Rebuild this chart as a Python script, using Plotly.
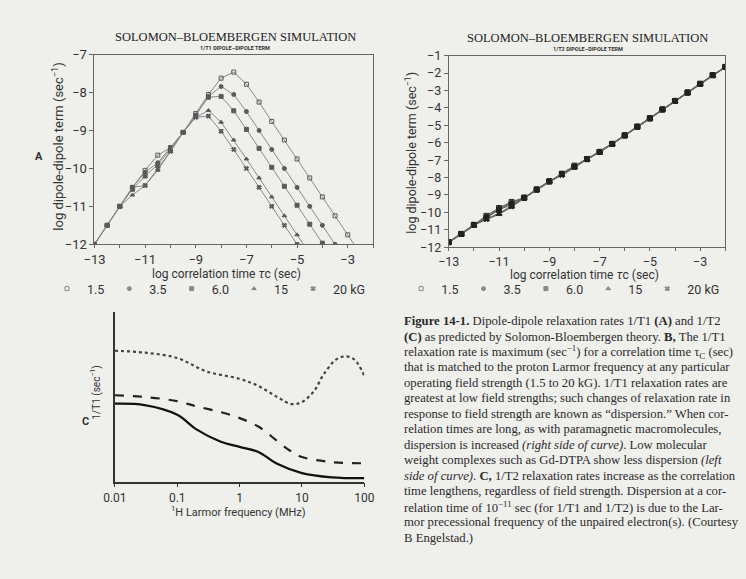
import plotly.graph_objects as go

W, H = 746, 579
def px(x): return x / W
def py(y): return 1 - y / H

# ---------------- data ----------------
field_names = ["1.5", "3.5", "6.0", "15", "20 kG"]
symbols = ["square-open", "circle", "square", "triangle-up", "x"]

# Panel A: 1/T1 dipole-dipole term (log), vs log correlation time
xA = [-13, -12.5, -12, -11.5, -11, -10.5, -10, -9.5, -9, -8.5, -8, -7.5,
      -7, -6.5, -6, -5.5, -5, -4.5, -4, -3.5, -3, -2.5]
t1_15 = [-12, -11.5, -11, -10.5, -10.05, -9.65, -9.45, -9.05, -8.55, -8.05, -7.62, -7.46,
         -7.78, -8.25, -8.76, -9.25, -9.75, -10.25, -10.75, -11.25, -11.75, -12.25]
t1_35 = [-12, -11.5, -11, -10.5, -10.1, -9.85, -9.45, -9.05, -8.6, -8.1, -7.84, -8.05,
         -8.5, -9.0, -9.5, -10.0, -10.5, -11.0, -11.5, -12.0]
t1_60 = [-12, -11.5, -11, -10.55, -10.2, -9.9, -9.5, -9.05, -8.6, -8.12, -8.1, -8.48,
         -8.97, -9.47, -9.97, -10.47, -10.97, -11.47, -11.97]
t1_150 = [-12, -11.5, -11, -10.7, -10.45, -10.05, -9.55, -9.05, -8.65, -8.47, -8.78, -9.25,
          -9.75, -10.25, -10.75, -11.25, -11.75, -12.25]
t1_200 = [-12, -11.5, -11, -10.5, -10.45, -10.0, -9.55, -9.05, -8.65, -8.62, -9.02, -9.5,
          -10.0, -10.5, -11.0, -11.5, -12.0]
t1_series = [t1_15, t1_35, t1_60, t1_150, t1_200]

# Panel B: 1/T2 dipole-dipole term (log)
xB = [-13, -12.5, -12, -11.5, -11, -10.5, -10, -9.5, -9, -8.5, -8, -7.5,
      -7, -6.5, -6, -5.5, -5, -4.5, -4, -3.5, -3, -2.5, -2]
t2_15 = [-11.71, -11.24, -10.72, -10.2, -9.75, -9.4, -9.16, -8.69, -8.22, -7.78, -7.32, -6.94,
         -6.53, -6.07, -5.58, -5.08, -4.6, -4.09, -3.6, -3.12, -2.62, -2.12, -1.65]
t2_35 = [-11.71, -11.24, -10.72, -10.25, -9.8, -9.45, -9.16, -8.69, -8.22, -7.8, -7.35, -6.94,
         -6.53, -6.07, -5.58, -5.08, -4.6, -4.09, -3.6, -3.12, -2.62, -2.12, -1.65]
t2_60 = [-11.71, -11.24, -10.72, -10.3, -9.85, -9.55, -9.16, -8.69, -8.22, -7.8, -7.38, -6.94,
         -6.53, -6.07, -5.58, -5.08, -4.6, -4.09, -3.6, -3.12, -2.62, -2.12, -1.65]
t2_150 = [-11.71, -11.24, -10.72, -10.4, -10.1, -9.68, -9.16, -8.69, -8.22, -7.85, -7.42, -6.94,
          -6.53, -6.07, -5.58, -5.08, -4.6, -4.09, -3.6, -3.12, -2.62, -2.12, -1.65]
t2_200 = [-11.71, -11.24, -10.72, -10.38, -10.05, -9.65, -9.16, -8.69, -8.22, -7.85, -7.4, -6.94,
          -6.53, -6.07, -5.58, -5.08, -4.6, -4.09, -3.6, -3.12, -2.62, -2.12, -1.65]
t2_series = [t2_15, t2_35, t2_60, t2_150, t2_200]

# Panel C: 1/T1 (arbitrary units) vs 1H Larmor frequency (MHz)
f_dot = [0.01, 0.03, 0.1, 0.3, 1, 2, 4, 6.8, 10, 16, 22, 35, 50, 70, 100]
c_dot = [7.73, 7.62, 7.3, 6.5, 6.07, 5.65, 5.0, 4.58, 4.7, 5.4, 6.3, 7.2, 7.4, 7.2, 6.24]
f_dash = [0.01, 0.03, 0.1, 0.2, 0.5, 1, 2, 4, 6.3, 10, 30, 100]
c_dash = [5.1, 5.0, 4.75, 4.45, 4.1, 3.75, 3.25, 2.4, 1.85, 1.45, 1.15, 1.08]
f_solid = [0.01, 0.03, 0.1, 0.2, 0.5, 1, 2, 4, 10, 30, 100]
c_solid = [4.6, 4.52, 3.95, 3.1, 2.35, 2.05, 1.75, 1.05, 0.5, 0.25, 0.2]

xticks_log = list(range(-13, -1))
xticktext_log = ["\u2212%d" % (-v) if v % 2 else "" for v in xticks_log]
xC_ticks = [0.01, 0.1, 1, 10, 100]
xC_text = ["0.01", "0.1", "1", "10", "100"]

caption = [
    "<b>Figure 14-1.</b> Dipole-dipole relaxation rates 1/T1 <b>(A)</b> and 1/T2",
    "<b>(C)</b> as predicted by Solomon-Bloembergen theory. <b>B,</b> The 1/T1",
    "relaxation rate is maximum (sec<sup>\u22121</sup>) for a correlation time \u03c4<sub>C</sub> (sec)",
    "that is matched to the proton Larmor frequency at any particular",
    "operating field strength (1.5 to 20 kG). 1/T1 relaxation rates are",
    "greatest at low field strengths; such changes of relaxation rate in",
    "response to field strength are known as \u201cdispersion.\u201d When cor-",
    "relation times are long, as with paramagnetic macromolecules,",
    "dispersion is increased <i>(right side of curve)</i>. Low molecular",
    "weight complexes such as Gd-DTPA show less dispersion <i>(left</i>",
    "<i>side of curve)</i>. <b>C,</b> 1/T2 relaxation rates increase as the correlation",
    "time lengthens, regardless of field strength. Dispersion at a cor-",
    "relation time of 10<sup>\u221211</sup> sec (for 1/T1 and 1/T2) is due to the Lar-",
    "mor precessional frequency of the unpaired electron(s). (Courtesy",
    "B Engelstad.)",
]

# ---------------- figure ----------------
SANS = "Roboto, Arial, sans-serif"
SERIF = "Liberation Serif, Times New Roman, serif"
INK = "#333333"
fig = go.Figure()

for name, sym, ys in zip(field_names, symbols, t1_series):
    fig.add_trace(go.Scatter(x=xA[:len(ys)], y=ys, mode="lines+markers", name=name,
                             line=dict(color="#8a8a8a", width=1),
                             marker=dict(symbol=sym, size=4, color="#5a5a5a",
                                         line=dict(color="#5a5a5a", width=1)),
                             xaxis="x", yaxis="y", showlegend=False))
    fig.add_trace(go.Scatter(x=[None], y=[None], mode="markers", name=name,
                             marker=dict(symbol=sym, size=4, color="#888888",
                                         line=dict(color="#888888", width=1)),
                             xaxis="x", yaxis="y", legend="legend"))

for name, sym, ys in zip(field_names, symbols, t2_series):
    fig.add_trace(go.Scatter(x=xB, y=ys, mode="lines+markers", name=name,
                             line=dict(color="#666666", width=1.2),
                             marker=dict(symbol=sym, size=5, color="#222222",
                                         line=dict(color="#222222", width=1)),
                             xaxis="x2", yaxis="y2", showlegend=False))
    fig.add_trace(go.Scatter(x=[None], y=[None], mode="markers", name=name,
                             marker=dict(symbol=sym, size=4, color="#888888",
                                         line=dict(color="#888888", width=1)),
                             xaxis="x2", yaxis="y2", legend="legend2"))

fig.add_trace(go.Scatter(x=f_dot, y=c_dot, mode="lines", line=dict(color="#444444", width=2.2, dash="dot", shape="spline"),
                         xaxis="x3", yaxis="y3", showlegend=False))
fig.add_trace(go.Scatter(x=f_dash, y=c_dash, mode="lines", line=dict(color="#222222", width=2.2, dash="dash", shape="spline"),
                         xaxis="x3", yaxis="y3", showlegend=False))
fig.add_trace(go.Scatter(x=f_solid, y=c_solid, mode="lines", line=dict(color="#111111", width=2.2, shape="spline"),
                         xaxis="x3", yaxis="y3", showlegend=False))

axis_common = dict(showgrid=False, zeroline=False, showline=True, linecolor="#666666", linewidth=1,
                   mirror=True, ticks="outside", ticklen=4, tickcolor="#666666",
                   tickfont=dict(family=SANS, size=13, color=INK))

fig.update_layout(
    width=W, height=H, margin=dict(l=0, r=0, t=0, b=0),
    paper_bgcolor="#efefec", plot_bgcolor="rgba(0,0,0,0)",
    xaxis=dict(axis_common, domain=[px(85), px(372)], range=[-13, -2], tickvals=xticks_log,
               ticktext=xticktext_log, anchor="y", ticklen=3),
    yaxis=dict(axis_common, domain=[py(243), py(48)], range=[-12, -7], dtick=1, anchor="x"),
    xaxis2=dict(axis_common, domain=[px(450), px(735)], range=[-13, -2], tickvals=xticks_log,
                ticktext=xticktext_log, anchor="y2", ticklen=3,
                tickfont=dict(family=SANS, size=12.5, color=INK)),
    yaxis2=dict(axis_common, domain=[py(246), py(49)], range=[-12, -1], dtick=1, anchor="x2",
                tickfont=dict(family=SANS, size=12.5, color=INK)),
    xaxis3=dict(showgrid=False, zeroline=False, showline=True, linecolor="#333333", linewidth=1.5,
                type="log", range=[-2, 2], tickvals=xC_ticks, ticktext=xC_text,
                ticks="outside", ticklen=4, tickcolor="#333333",
                tickfont=dict(family=SANS, size=12, color=INK),
                domain=[px(106), px(363)], anchor="y3"),
    yaxis3=dict(showgrid=False, zeroline=False, showline=True, linecolor="#333333", linewidth=1.5,
                range=[0, 10], showticklabels=False, ticks="",
                domain=[py(487), py(313)], anchor="x3"),
    legend=dict(orientation="h", x=px(36), y=py(289), xanchor="left", yanchor="middle",
                itemwidth=30, font=dict(family=SANS, size=12.5, color=INK), bgcolor="rgba(0,0,0,0)"),
    legend2=dict(orientation="h", x=px(401), y=py(289), xanchor="left", yanchor="middle",
                 itemwidth=30, font=dict(family=SANS, size=12.5, color=INK), bgcolor="rgba(0,0,0,0)"),
)

ann = []
def text(x, y, s, size, family=SANS, angle=0, xanchor="center", color=INK):
    ann.append(dict(xref="paper", yref="paper", x=px(x), y=py(y), text=s, showarrow=False,
                    xanchor=xanchor, yanchor="middle", textangle=angle,
                    font=dict(family=family, size=size, color=color)))

# titles
text(230, 30, "SOLOMON\u2013BLOEMBERGEN SIMULATION", 12.5, SERIF, color="#222222")
text(230, 41, "<b>1/T1 DIPOLE\u2013DIPOLE TERM</b>", 5.5)
text(593, 31, "SOLOMON\u2013BLOEMBERGEN SIMULATION", 12.5, SERIF, color="#222222")
text(593, 42, "<b>1/T2 DIPOLE\u2013DIPOLE TERM</b>", 5.5)
# axis titles
text(47, 143, "log dipole-dipole term (sec<sup>\u22121</sup>)", 13, angle=-90)
text(221, 274, "log correlation time <i>\u03c4</i>c (sec)", 12)
text(411, 149, "log dipole-dipole term (sec<sup>\u22121</sup>)", 12.5, angle=-90)
text(590, 275, "log correlation time <i>\u03c4</i>c (sec)", 12)
text(86, 395, "1/T1 (sec<sup>\u22121</sup>)", 10, angle=-90)
text(233, 518, "<sup>1</sup>H Larmor frequency (MHz)", 11)
# panel letters
text(28, 153, "<b>A</b>", 11)
text(76, 425, "<b>C</b>", 11)
# caption
for i, line in enumerate(caption):
    text(402, 322 + i * 15.9, line, 12.7, SERIF, xanchor="left", color="#2a2a2a")

fig.update_layout(annotations=ann)
fig.write_html("out.html", config={"displayModeBar": False},
               post_script="document.body.style.margin='0';")
